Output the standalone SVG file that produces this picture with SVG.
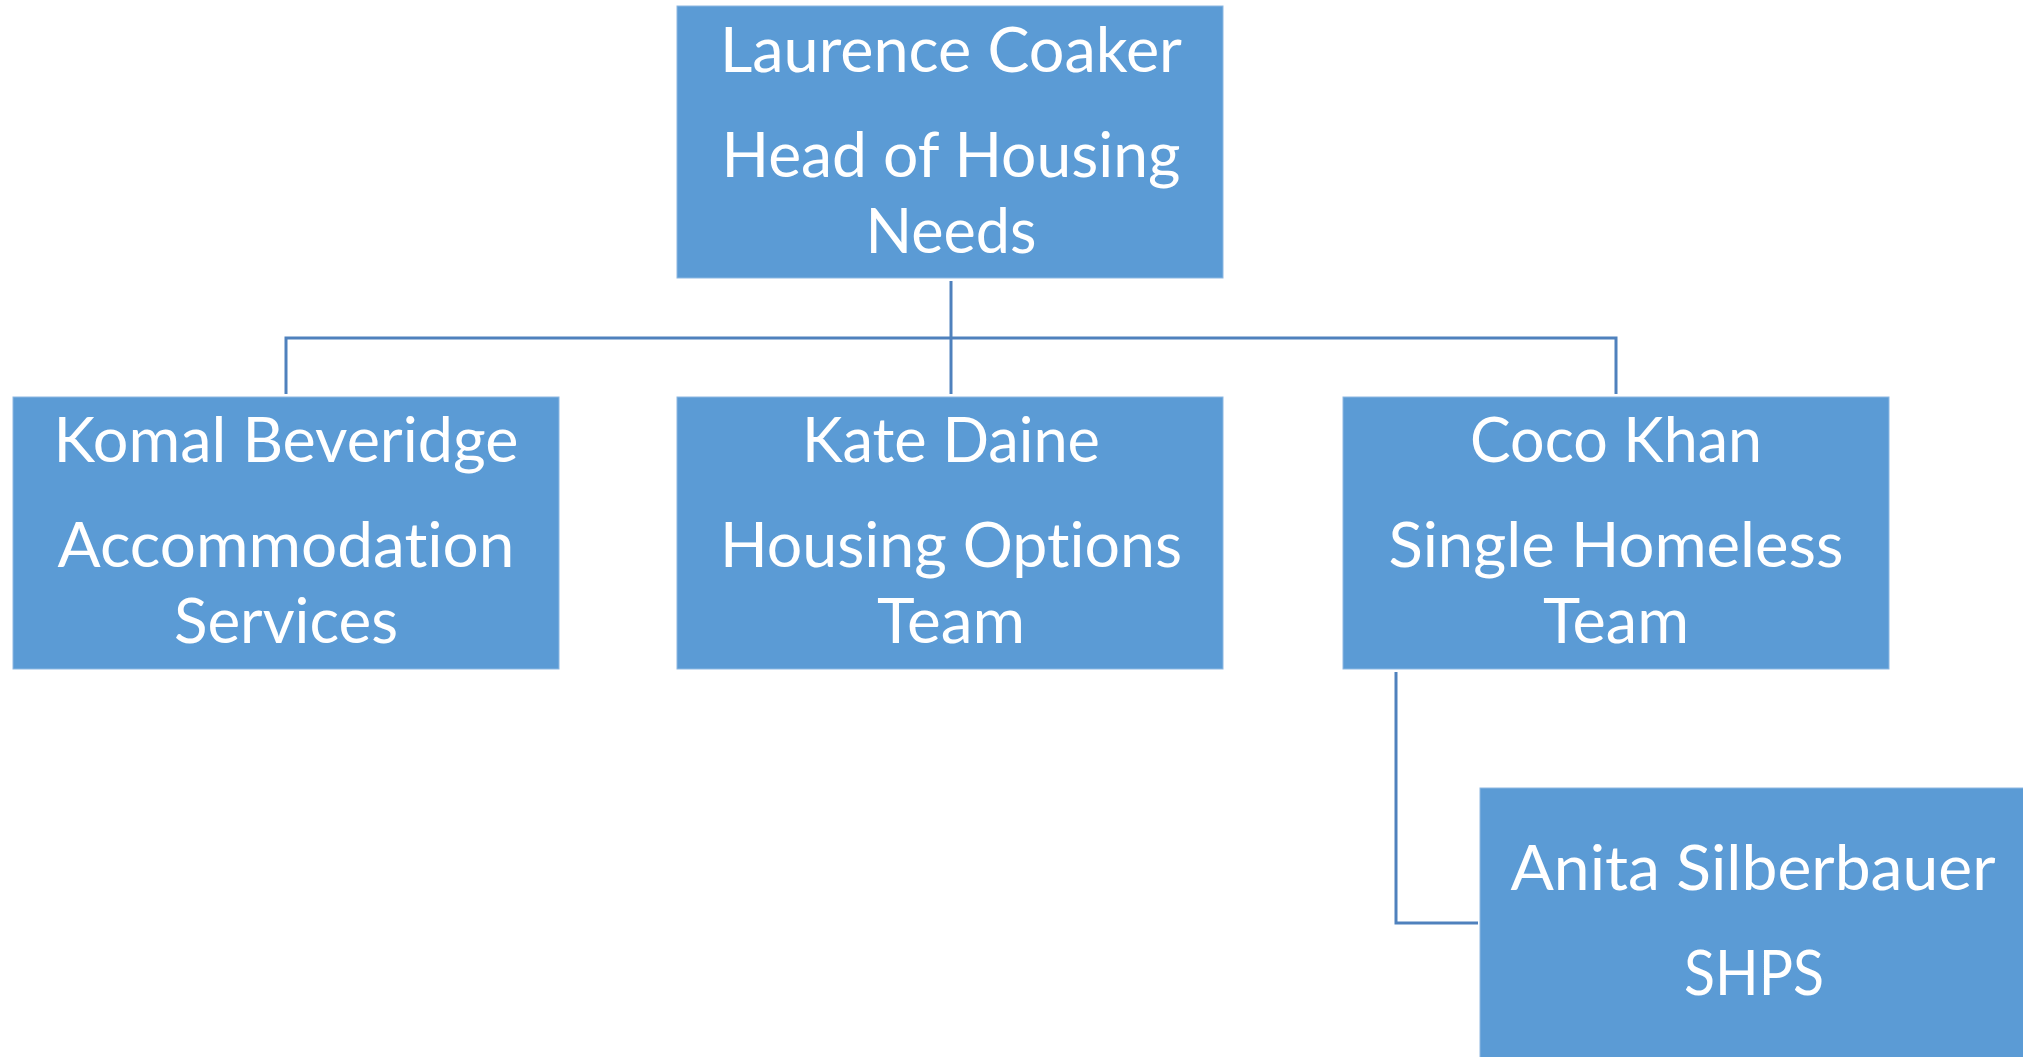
<svg xmlns="http://www.w3.org/2000/svg" width="2023" height="1057" viewBox="0 0 2023 1057">
<style>
.box{fill:#5B9BD5;stroke:#8DB8E2;stroke-width:1}
.t{font-family:Lato,"Open Sans","Liberation Sans",sans-serif;font-size:61px;fill:#FFFFFF;text-anchor:middle;font-variant-ligatures:none;font-feature-settings:"liga" 0,"clig" 0}
.c{fill:none;stroke:#4F81BD;stroke-width:3}
</style>
<rect width="2023" height="1057" fill="#FFFFFF"/>
<g id="connectors">
<path class="c" d="M951,281 V394"/>
<path class="c" d="M286,394 V338 H1616 V394"/>
<path class="c" d="M1396,672 V923 H1478"/>
</g>
<g id="node-laurence">
<rect class="box" x="677" y="6" width="546" height="272"/>
<text class="t" x="951" y="72" textLength="462" lengthAdjust="spacingAndGlyphs">Laurence Coaker</text>
<text class="t" x="951" y="177" textLength="459" lengthAdjust="spacingAndGlyphs">Head of Housing</text>
<text class="t" x="951" y="253" textLength="171" lengthAdjust="spacingAndGlyphs">Needs</text>
</g>
<g id="node-komal">
<rect class="box" x="13" y="397" width="546" height="272"/>
<text class="t" x="286" y="462" textLength="465" lengthAdjust="spacingAndGlyphs">Komal Beveridge</text>
<text class="t" x="286" y="567" textLength="457" lengthAdjust="spacingAndGlyphs">Accommodation</text>
<text class="t" x="286" y="643" textLength="224" lengthAdjust="spacingAndGlyphs">Services</text>
</g>
<g id="node-kate">
<rect class="box" x="677" y="397" width="546" height="272"/>
<text class="t" x="951" y="462" textLength="298" lengthAdjust="spacingAndGlyphs">Kate Daine</text>
<text class="t" x="951" y="567" textLength="462" lengthAdjust="spacingAndGlyphs">Housing Options</text>
<text class="t" x="951" y="643" textLength="148" lengthAdjust="spacingAndGlyphs">Team</text>
</g>
<g id="node-coco">
<rect class="box" x="1343" y="397" width="546" height="272"/>
<text class="t" x="1616" y="462" textLength="292" lengthAdjust="spacingAndGlyphs">Coco Khan</text>
<text class="t" x="1616" y="567" textLength="455" lengthAdjust="spacingAndGlyphs">Single Homeless</text>
<text class="t" x="1616" y="643" textLength="146" lengthAdjust="spacingAndGlyphs">Team</text>
</g>
<g id="node-anita">
<rect class="box" x="1480" y="788" width="546" height="272"/>
<text class="t" x="1753" y="890" textLength="485" lengthAdjust="spacingAndGlyphs">Anita Silberbauer</text>
<text class="t" x="1754" y="995" textLength="140" lengthAdjust="spacingAndGlyphs">SHPS</text>
</g>
</svg>
